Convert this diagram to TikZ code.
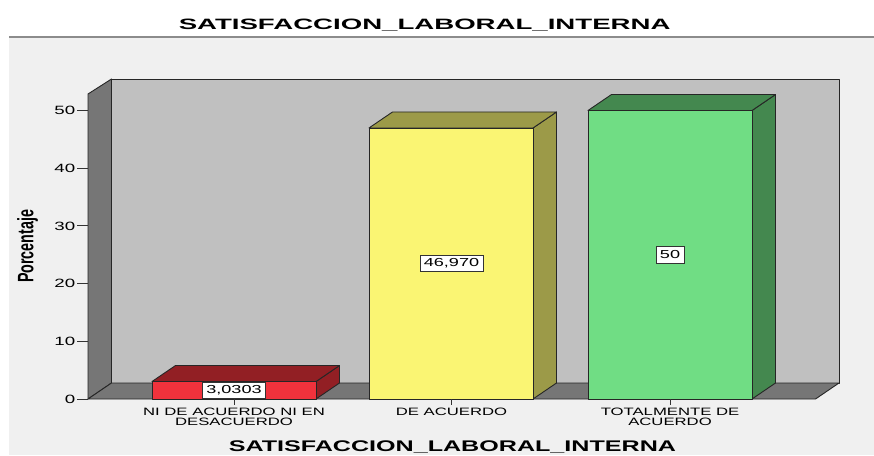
\documentclass[tikz,border=0pt]{standalone}
\usepackage{fontspec}
\setmainfont{Liberation Sans}

\definecolor{panel}{HTML}{F0F0F0}
\definecolor{wallback}{HTML}{C0C0C0}
\definecolor{walldark}{HTML}{767676}
\definecolor{redfront}{HTML}{F0323C}
\definecolor{redside}{HTML}{921F24}
\definecolor{yelfront}{HTML}{FAF573}
\definecolor{yelside}{HTML}{9C9A48}
\definecolor{grnfront}{HTML}{70DD84}
\definecolor{grnside}{HTML}{44884F}
\newcommand{\xstretch}[2][1.56]{\scalebox{#1}[1]{#2}}

\begin{document}
\begin{tikzpicture}[x=1pt,y=1pt,
		edge/.style={draw=black!85,line width=0.9pt,line join=round},
		tickline/.style={draw=black!80,line width=0.8pt},
		valbox/.style={draw=black!80,fill=white,line width=0.6pt,inner xsep=4pt,minimum height=16.5pt,font=\fontsize{11.6}{12}\selectfont},
		ticklbl/.style={anchor=east,inner sep=0pt,font=\fontsize{12}{12}\selectfont},
		catlbl/.style={anchor=north,inner sep=0pt,align=center,font=\fontsize{10.7}{10.3}\selectfont}]
		\useasboundingbox (0,0) rectangle (874,455);
		\fill[white] (0,0) rectangle (874,455);
		\fill[panel] (9,0) rectangle (874,418);
		\draw[black!45,line width=1.2pt] (9,418) -- (874,418);
		\node (title) [anchor=base,inner sep=0pt,font=\bfseries\fontsize{15}{15}\selectfont] at (424.6,425) {\xstretch[1.84]{SATISFACCION\_LABORAL\_INTERNA}};
		\filldraw[edge,fill=wallback] (111.5,72) rectangle (839,376);
		\filldraw[edge,fill=walldark] (88,56) -- (111.5,72) -- (111.5,376) -- (88,361) -- cycle;
		\filldraw[edge,fill=walldark] (88,56) -- (815.5,56) -- (839,72) -- (111.5,72) -- cycle;
		\foreach \v in {0,10,...,50} {
			\draw[tickline] (77,{56+5.77*\v}) -- (88,{56+5.77*\v});
			\node (tick\v) [ticklbl] at (75.5,{56+5.77*\v}) {\xstretch{\v}};
		}
		\node (ylabel) [rotate=90,anchor=base,inner sep=0pt,font=\bfseries\fontsize{14.3}{14}\selectfont] at (33.3,208.6) {\scalebox{1}[1.56]{Porcentaje}};
		\foreach \bx/\bv/\fc/\sc in {152/3.0303/redfront/redside, 369/46.970/yelfront/yelside, 588/50/grnfront/grnside} {
			\pgfmathsetmacro\bt{56+5.77*\bv}
			\filldraw[edge,fill=\sc] (\bx+164,56) -- (\bx+187.5,72) -- (\bx+187.5,\bt+16) -- (\bx+164,\bt) -- cycle;
			\filldraw[edge,fill=\sc] (\bx,\bt) -- (\bx+23.5,\bt+16) -- (\bx+187.5,\bt+16) -- (\bx+164,\bt) -- cycle;
			\filldraw[edge,fill=\fc] (\bx,56) rectangle (\bx+164,\bt);
			\draw[tickline] (\bx+82,56) -- (\bx+82,50);
		}
		\node (valni) [valbox] at (234,64.7) {\xstretch{3,0303}};
		\node (valde) [valbox] at (451.5,191.5) {\xstretch{46,970}};
		\node (valtot) [valbox] at (670,200.3) {\xstretch{50}};
		\node (catni) [catlbl] at (234,47) {\xstretch{NI DE ACUERDO NI EN}\\\xstretch{DESACUERDO}};
		\node (catde) [catlbl] at (451.5,47) {\xstretch{DE ACUERDO}};
		\node (cattot) [catlbl] at (670,47) {\xstretch{TOTALMENTE DE}\\\xstretch{ACUERDO}};
		\node (xtitle) [anchor=base,inner sep=0pt,font=\bfseries\fontsize{15.4}{15}\selectfont] at (452.4,4) {\xstretch[1.63]{SATISFACCION\_LABORAL\_INTERNA}};
\end{tikzpicture}
\end{document}
